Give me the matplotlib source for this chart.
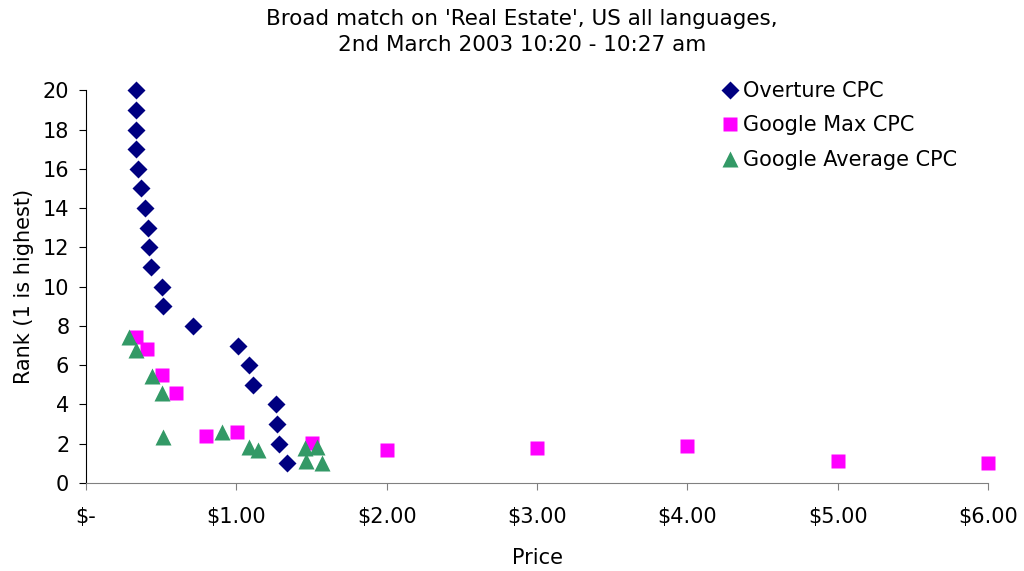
import matplotlib.pyplot as plt
from matplotlib.ticker import FuncFormatter

# Overture CPC
ov_price = [0.333, 0.333, 0.333, 0.333, 0.346, 0.363, 0.393, 0.41, 0.421, 0.432,
            0.506, 0.512, 0.712, 1.009, 1.082, 1.113, 1.262, 1.271, 1.282, 1.335]
ov_rank = [20, 19, 18, 17, 16, 15, 14, 13, 12, 11, 10, 9, 8, 7, 6, 5, 4, 3, 2, 1]

# Google Max CPC
gmax_price = [0.333, 0.403, 0.506, 0.601, 0.80, 1.003, 1.506, 2.0, 3.0, 4.0, 5.0, 6.0]
gmax_rank = [7.45, 6.8, 5.5, 4.6, 2.39, 2.61, 2.02, 1.68, 1.78, 1.88, 1.1, 1.0]

# Google Average CPC
gavg_price = [0.288, 0.333, 0.439, 0.504, 0.512, 0.905, 1.082, 1.142, 1.457, 1.535, 1.464, 1.572]
gavg_rank = [7.45, 6.77, 5.45, 4.6, 2.36, 2.58, 1.85, 1.68, 1.77, 1.85, 1.14, 1.0]

fs = 15

fig = plt.figure(figsize=(10.24, 5.71), dpi=100)
ax = fig.add_axes([0.084, 0.154, 0.881, 0.688])

ax.plot(ov_price, ov_rank, 'D', color='#000080', ms=9.5, mec='none', clip_on=False, label='Overture CPC')
ax.plot(gmax_price, gmax_rank, 's', color='#FF00FF', ms=10, mec='none', clip_on=False, label='Google Max CPC')
ax.plot(gavg_price, gavg_rank, '^', color='#339966', ms=11.5, mec='none', clip_on=False, label='Google Average CPC')

ax.set_xlim(0, 6)
ax.set_ylim(0, 20)
ax.set_yticks(range(0, 21, 2))
ax.set_xticks(range(0, 7))


def money(v, pos):
    if v == 0:
        return '$-'
    return '$%.2f' % v


ax.xaxis.set_major_formatter(FuncFormatter(money))
ax.spines['top'].set_visible(False)
ax.spines['right'].set_visible(False)
ax.spines['bottom'].set_color('#808080')
ax.spines['left'].set_color('black')
ax.tick_params(axis='both', labelsize=fs, direction='out', length=5, colors='black')
ax.tick_params(axis='x', pad=12, color='#808080')
ax.tick_params(axis='y', pad=7)

ax.set_xlabel('Price', fontsize=fs, labelpad=15)
ax.set_ylabel('Rank (1 is highest)', fontsize=fs, labelpad=6)
ax.set_title("Broad match on 'Real Estate', US all languages,\n2nd March 2003 10:20 - 10:27 am",
             fontsize=15.5, pad=28, linespacing=1.4, x=0.483)

ax.legend(loc='upper left', bbox_to_anchor=(0.697, 1.045), frameon=False, fontsize=fs,
          handlelength=0.7, handletextpad=0.25, labelspacing=0.7, borderaxespad=0)

fig.savefig('out.png', dpi=100)
